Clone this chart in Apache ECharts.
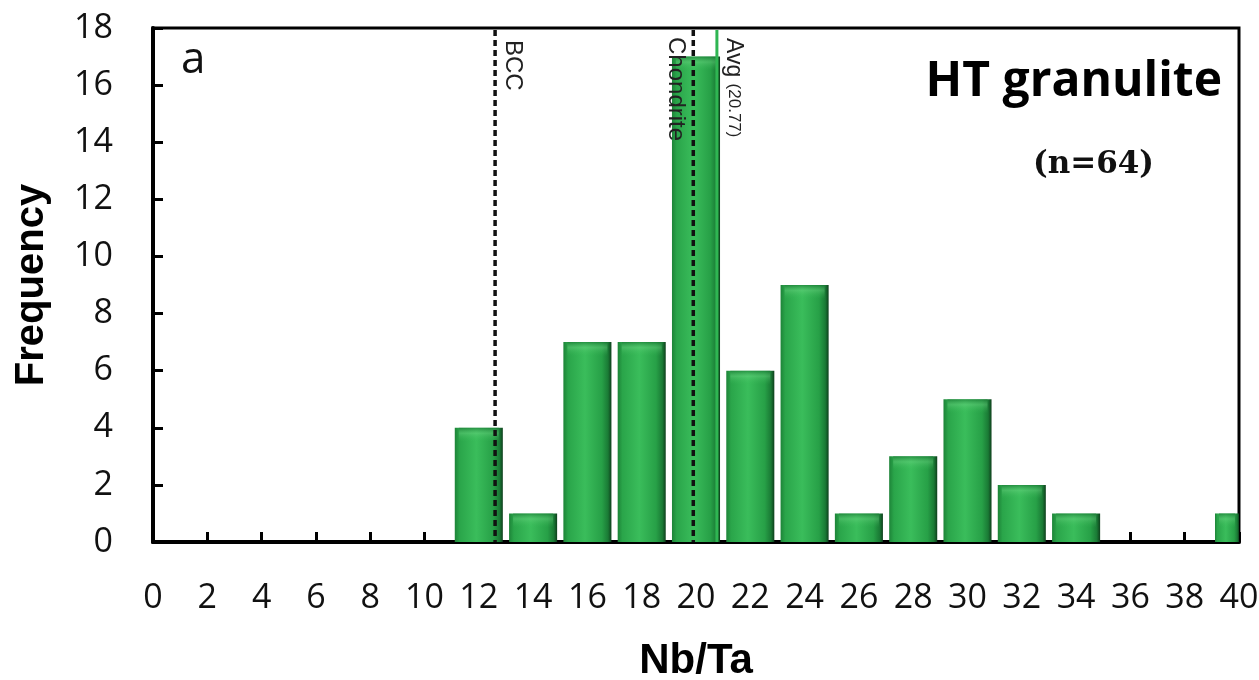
<!DOCTYPE html>
<html>
<head>
<meta charset="utf-8">
<script src="https://cdn.jsdelivr.net/npm/echarts@6/dist/echarts.min.js"></script>
<style>
html,body{margin:0;padding:0;background:#ffffff;}
#chart{width:1259px;height:680px;}
</style>
</head>
<body>
<div id="chart"></div>
<script>
// ---- data ----
const binCenters = [12, 14, 16, 18, 20, 22, 24, 26, 28, 30, 32, 34, 36, 38, 40];
const frequencies = [4, 1, 7, 7, 17, 6, 9, 1, 3, 5, 2, 1, 0, 0, 1];
const refLineNames = ['BCC', 'Chondrite', 'Avg'];
const refLineValues = [12.6, 19.9, 20.77];
const xTicks = [0, 2, 4, 6, 8, 10, 12, 14, 16, 18, 20, 22, 24, 26, 28, 30, 32, 34, 36, 38, 40];
const yTicks = [0, 2, 4, 6, 8, 10, 12, 14, 16, 18];
const panelLabel = 'a';
const titleText = 'HT granulite';
const countText = '(n=64)';

const BIN_WIDTH = 1.77;

const barData = binCenters.map((c, i) => [c, frequencies[i]]);
const refData = refLineNames.map((n, i) => ({ name: n, value: [refLineValues[i]] }));

const chart = echarts.init(document.getElementById('chart'), null, { renderer: 'canvas' });

const barGradient = new echarts.graphic.LinearGradient(0, 0, 1, 0, [
  { offset: 0, color: '#1d8438' },
  { offset: 0.1, color: '#2aa54a' },
  { offset: 0.45, color: '#3abd5b' },
  { offset: 0.8, color: '#27a047' },
  { offset: 0.93, color: '#1a7a35' },
  { offset: 1, color: '#0e3f1c' }
]);

const option = {
  backgroundColor: '#ffffff',
  animation: false,
  title: [
    { text: panelLabel, left: 176, top: 33,
      textStyle: { fontFamily: 'Open Sans', fontSize: 44, fontWeight: 'normal', color: '#111' } },
    { text: titleText, right: 32, top: 53,
      textStyle: { fontFamily: 'Open Sans', fontSize: 48, fontWeight: 'bold', color: '#000' } },
    { text: countText, right: 100, top: 144,
      textStyle: { fontFamily: 'DejaVu Serif', fontSize: 31, fontWeight: 'bold', color: '#111' } }
  ],
  grid: { left: 153, right: 20, top: 28, bottom: 138, show: true, outerBoundsMode: 'none', containLabel: false,
          borderColor: '#000', borderWidth: 3, backgroundColor: 'transparent' },
  xAxis: {
    type: 'value', min: 0, max: 40, interval: 2,
    name: 'Nb/Ta', nameLocation: 'middle', nameGap: 119,
    nameTextStyle: { fontFamily: 'Liberation Sans', fontSize: 42, fontWeight: 'bold', color: '#000', verticalAlign: 'middle' },
    axisLine: { show: true, onZero: false, lineStyle: { color: '#000', width: 4 } },
    axisTick: { show: true, inside: true, length: 10, lineStyle: { color: '#000', width: 3 } },
    axisLabel: { margin: 39, fontFamily: 'Open Sans', fontSize: 34, color: '#111',
      formatter: v => xTicks.includes(v) ? String(v) : '' },
    splitLine: { show: false }
  },
  yAxis: {
    type: 'value', min: 0, max: 18, interval: 2,
    name: 'Frequency', nameLocation: 'middle', nameGap: 101,
    nameTextStyle: { fontFamily: 'Liberation Sans', fontSize: 40, fontWeight: 'bold', color: '#000' },
    axisLine: { show: true, onZero: false, lineStyle: { color: '#000', width: 4 } },
    axisTick: { show: true, inside: true, length: 10, lineStyle: { color: '#000', width: 3 } },
    axisLabel: { margin: 40, fontFamily: 'Open Sans', fontSize: 34, color: '#111',
      formatter: v => yTicks.includes(v) ? String(v) : '' },
    splitLine: { show: false }
  },
  series: [
    {
      type: 'custom',
      name: 'Frequency',
      data: barData,
      clip: true,
      encode: { x: 0, y: 1 },
      renderItem: function (params, api) {
        const c = api.value(0), f = api.value(1);
        if (!f) return null;
        const p0 = api.coord([c - BIN_WIDTH / 2, f]);
        const p1 = api.coord([c + BIN_WIDTH / 2, 0]);
        const rect = echarts.graphic.clipRectByRect(
          { x: p0[0], y: p0[1], width: p1[0] - p0[0], height: p1[1] - p0[1] },
          params.coordSys
        );
        if (!rect) return null;
        const topBand = Math.min(14, rect.height);
        return {
          type: 'group',
          children: [
            { type: 'rect', shape: rect, style: { fill: barGradient } },
            { type: 'rect', shape: { x: rect.x + 4, y: rect.y, width: Math.max(0, rect.width - 8), height: topBand },
              style: { fill: new echarts.graphic.LinearGradient(0, 0, 0, 1, [
                { offset: 0, color: 'rgba(20,110,45,0.55)' },
                { offset: 0.4, color: 'rgba(120,220,140,0.35)' },
                { offset: 1, color: 'rgba(60,190,90,0)' }
              ]) } }
          ]
        };
      },
      z: 2
    },
    {
      type: 'custom',
      name: 'refs',
      data: refData,
      clip: false,
      encode: { x: 0 },
      renderItem: function (params, api) {
        const v = api.value(0);
        const name = refData[params.dataIndex].name;
        const top = api.coord([v, 18]);
        const bot = api.coord([v, 0]);
        const isAvg = name === 'Avg';
        const line = {
          type: 'line',
          shape: { x1: top[0], y1: top[1] + 2, x2: bot[0], y2: bot[1] },
          style: isAvg
            ? { stroke: '#2fb552', lineWidth: 3 }
            : { stroke: '#111', lineWidth: 3.5, lineDash: [6, 4] }
        };
        let text;
        if (name === 'Chondrite') {
          text = { type: 'text', x: top[0] - 6, y: top[1] + 9, rotation: -Math.PI / 2,
            style: { text: name, align: 'left', verticalAlign: 'top',
              fontFamily: 'Liberation Sans', fontSize: 24, fill: '#222' } };
        } else if (isAvg) {
          text = { type: 'text', x: top[0] + 5, y: top[1] + 10, rotation: -Math.PI / 2,
            style: { text: '{a|' + name + '} {b|(' + v.toFixed(2) + ')}', align: 'left', verticalAlign: 'bottom',
              rich: { a: { fontFamily: 'Liberation Sans', fontSize: 23, fill: '#222' },
                      b: { fontFamily: 'Liberation Sans', fontSize: 17, fill: '#222' } },
              fontFamily: 'Liberation Sans', fontSize: 23, fill: '#222' } };
        } else {
          text = { type: 'text', x: top[0] + 6, y: top[1] + 12, rotation: -Math.PI / 2,
            style: { text: name, align: 'left', verticalAlign: 'bottom',
              fontFamily: 'Liberation Sans', fontSize: 24, fill: '#222' } };
        }
        return { type: 'group', children: [line, text] };
      },
      z: 5
    }
  ]
};
chart.setOption(option);
</script>
</body>
</html>
